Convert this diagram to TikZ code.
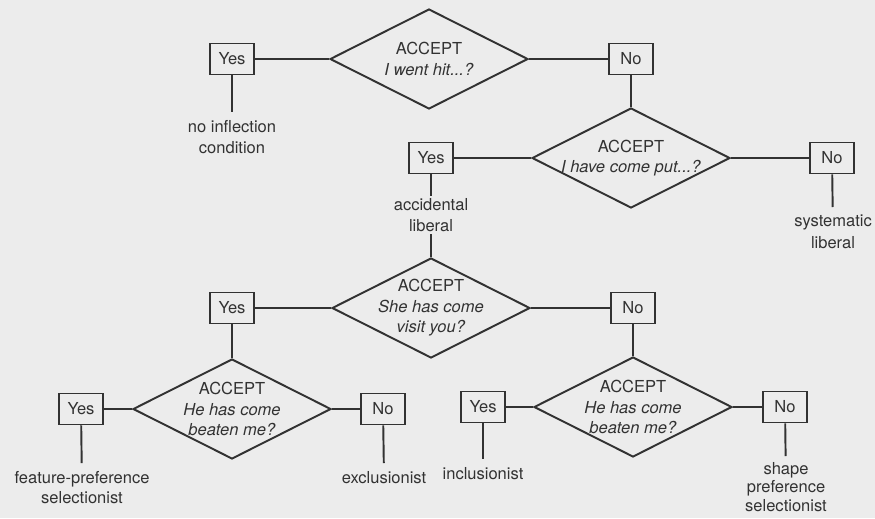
\documentclass[tikz,border=0pt]{standalone}
\usepackage{fontspec}
\setmainfont{TeX Gyre Heros}
\usepackage{tikz}
\usetikzlibrary{shapes.geometric, positioning}
\definecolor{paper}{RGB}{236, 236, 236}
\definecolor{ink}{RGB}{50, 50, 50}

\begin{document}
\begin{tikzpicture}[x=0.02cm, y=-0.02cm, ink, line width=1.1pt,
    font=\fontsize{9.4}{11.6}\selectfont,
    answer/.style={draw, rectangle, minimum width=0.88cm, minimum height=0.62cm, inner sep=1pt},
    question/.style={draw, diamond, minimum width=3.96cm, minimum height=2cm, inner sep=0pt},
    outcome/.style={anchor=north, align=center, inner sep=4pt}]
    \useasboundingbox (0,0) rectangle (875,518);
    \fill[paper] (0,0) rectangle (875,518);

    % I went hit
    \node[question, label={[align=center]center:ACCEPT\\\textit{I went hit...?}}] (q1) at (429,59) {};
    \node[answer] (yes1) at (232,59) {Yes};
    \node[answer] (no1) at (631,59) {No};
    \node[outcome, font=\fontsize{9.4}{12.4}\selectfont] (noinfl) at (232,112) {no inflection\\condition};
    \draw (yes1) -- (q1);
    \draw (q1) -- (no1);
    \draw (yes1) -- (noinfl);

    % I have come put
    \node[question, label={[align=center]center:ACCEPT\\\textit{I have come put...?}}] (q2) at (631,158) {};
    \node[answer] (yes2) at (431,158) {Yes};
    \node[answer] (no2) at (832,158) {No};
    \node[outcome, inner sep=1pt] (accid) at (431,196) {accidental\\liberal};
    \node[outcome, font=\fontsize{9.4}{12.4}\selectfont] (system) at (833,207) {systematic\\liberal};
    \draw (no1) -- (q2);
    \draw (yes2) -- (q2);
    \draw (q2) -- (no2);
    \draw (yes2) -- (accid);
    \draw (no2) -- (system);

    % She has come visit you
    \node[question, label={[align=center]center:ACCEPT\\\textit{She has come}\\\textit{visit you?}}] (q3) at (431,308) {};
    \node[answer] (yes3) at (232,308) {Yes};
    \node[answer] (no3) at (633,308) {No};
    \draw (accid) -- (q3);
    \draw (yes3) -- (q3);
    \draw (q3) -- (no3);

    % He has come beaten me (left)
    \node[question, label={[align=center]center:ACCEPT\\\textit{He has come}\\\textit{beaten me?}}] (q4) at (232,409) {};
    \node[answer] (yes4) at (81,409) {Yes};
    \node[answer] (no4) at (383,409) {No};
    \node[outcome] (featpref) at (82,463) {feature-preference\\selectionist};
    \node[outcome] (exclus) at (384,463) {exclusionist};
    \draw (yes3) -- (q4);
    \draw (yes4) -- (q4);
    \draw (q4) -- (no4);
    \draw (yes4) -- (featpref);
    \draw (no4) -- (exclus);

    % He has come beaten me (right)
    \node[question, label={[align=center]center:ACCEPT\\\textit{He has come}\\\textit{beaten me?}}] (q5) at (633,407) {};
    \node[answer] (yes5) at (483,407) {Yes};
    \node[answer] (no5) at (785,407) {No};
    \node[outcome] (inclus) at (483,459) {inclusionist};
    \node[outcome, inner sep=3pt, font=\fontsize{9.4}{10.6}\selectfont] (shapepref) at (786,456) {shape\\preference\\selectionist};
    \draw (no3) -- (q5);
    \draw (yes5) -- (q5);
    \draw (q5) -- (no5);
    \draw (yes5) -- (inclus);
    \draw (no5) -- (shapepref);
\end{tikzpicture}
\end{document}
